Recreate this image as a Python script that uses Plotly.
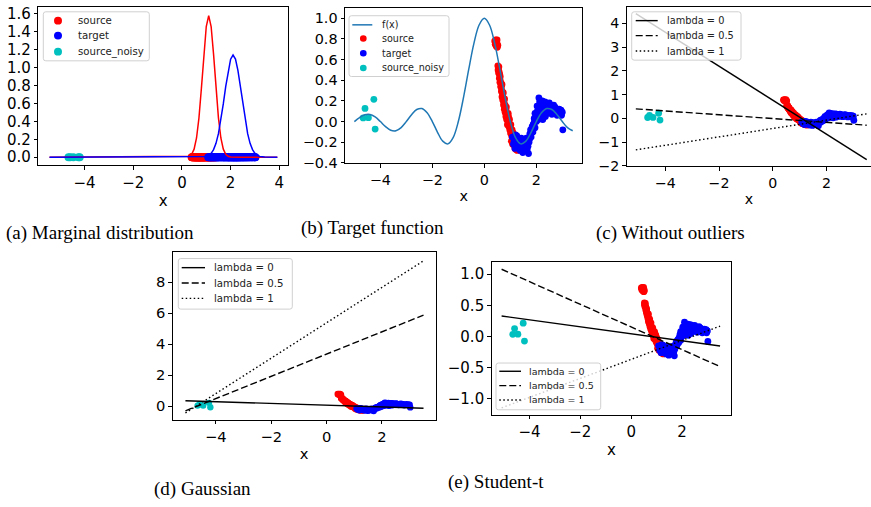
import plotly.graph_objects as go

W, H = 871, 507

# ---------------- data ----------------
source_x = [0.40, 0.42, 0.44, 0.46, 0.48, 0.50, 0.52, 0.43, 0.49,
            0.52, 0.54, 0.56, 0.57, 0.59, 0.60, 0.61, 0.62, 0.64, 0.65, 0.66, 0.67, 0.68,
            0.69, 0.70, 0.71, 0.72, 0.73, 0.74, 0.75, 0.76, 0.78, 0.78, 0.79, 0.80, 0.82,
            0.83, 0.84, 0.85, 0.86, 0.87, 0.88, 0.90, 0.91, 0.92, 0.93, 0.94, 0.95, 0.96,
            0.98, 1.00, 1.01, 1.03, 1.05, 1.06, 1.08, 1.10, 1.12, 1.14, 1.16, 1.18, 1.20,
            1.22, 1.25, 1.27, 1.30, 1.33, 1.36, 1.40,
            0.53, 0.55, 0.58, 0.60, 0.63, 0.66, 0.68, 0.71, 0.74, 0.77, 0.80, 0.83,
            0.86, 0.89, 0.92, 0.97, 1.02, 1.04, 1.07, 1.09, 1.11, 1.15, 1.18, 1.21,
            1.24, 1.28, 1.32, 1.38]
source_y = [0.78, 0.75, 0.79, 0.73, 0.76, 0.72, 0.74, 0.77, 0.79,
            0.54, 0.51, 0.53, 0.48, 0.46, 0.42, 0.44, 0.39, 0.37, 0.33, 0.35, 0.30, 0.36,
            0.29, 0.25, 0.27, 0.22, 0.28, 0.21, 0.18, 0.20, 0.15, 0.22, 0.13, 0.16, 0.10,
            0.12, 0.07, 0.14, 0.08, 0.04, 0.06, 0.01, 0.03, -0.02, 0.05, -0.01, -0.05, -0.03,
            -0.08, -0.06, -0.11, -0.09, -0.14, -0.12, -0.17, -0.15, -0.20, -0.18, -0.23, -0.21, -0.25,
            -0.27, -0.24, -0.28, -0.26, -0.22, -0.25, -0.21,
            0.50, 0.47, 0.42, 0.38, 0.34, 0.29, 0.24, 0.21, 0.16, 0.12, 0.09, 0.05,
            0.02, -0.03, 0.08, 0.02, -0.03, -0.19, -0.08, -0.22, -0.11, -0.14, -0.26, -0.17,
            -0.20, -0.23, -0.27, -0.18]

target_x = [1.08, 1.15, 1.20, 1.22, 1.28, 1.30, 1.35, 1.38, 1.42, 1.45, 1.48, 1.50, 1.55,
            1.58, 1.62, 1.65, 1.70, 1.72, 1.75, 1.78, 1.80, 1.84, 1.87, 1.90, 1.92, 1.95,
            1.95, 1.98, 2.00, 2.02, 2.05, 2.07, 2.10, 2.12, 2.14, 2.15, 2.17, 2.20, 2.22,
            2.25, 2.25, 2.28, 2.30, 2.33, 2.35, 2.36, 2.40, 2.43, 2.46, 2.50, 2.53, 2.56,
            2.60, 2.63, 2.67, 2.70, 2.75, 2.80, 2.85, 2.90, 2.95, 3.00, 3.02,
            1.12, 1.18, 1.25, 1.32, 1.40, 1.46, 1.52, 1.60, 1.68, 1.74, 1.82, 1.88,
            1.93, 2.03, 2.08, 2.13, 2.18, 2.23, 2.27, 2.32, 2.38, 2.42, 2.48, 2.52,
            2.58, 2.65, 2.72, 2.78, 2.88, 2.97]
target_y = [-0.15, -0.19, -0.13, -0.22, -0.17, -0.25, -0.20, -0.28, -0.16, -0.23, -0.30, -0.19, -0.26,
            -0.21, -0.16, -0.27, -0.31, -0.20, -0.12, -0.08, -0.15, -0.05, -0.10, -0.02, 0.03, -0.06,
            0.08, 0.05, 0.00, 0.09, 0.04, 0.12, 0.23, 0.07, 0.15, 0.20, 0.10, 0.18, 0.05,
            0.13, 0.02, 0.16, 0.09, 0.19, 0.05, 0.12, 0.17, 0.08, 0.14, 0.18, 0.10, 0.15,
            0.07, 0.12, 0.16, 0.09, 0.12, 0.06, 0.10, 0.08, 0.11, 0.09, -0.08,
            -0.22, -0.26, -0.14, -0.20, -0.24, -0.18, -0.27, -0.23, -0.24, -0.17, -0.10, -0.03,
            0.00, 0.15, 0.02, 0.19, 0.13, 0.20, 0.07, 0.14, 0.18, 0.13, 0.10, 0.16,
            0.11, 0.09, 0.14, 0.10, 0.12, 0.06]

noisy_x = [-4.66, -4.59, -4.46, -4.25, -4.20]
noisy_y = [0.035, 0.127, 0.038, 0.215, -0.073]

# marginal densities (panel a)
dens_x = [-5.44, 0.3, 0.4, 0.5, 0.6, 0.7, 0.8, 0.9, 1.0, 1.1, 1.2, 1.3, 1.4, 1.5, 1.6, 1.7,
          1.8, 1.9, 2.0, 2.1, 2.2, 2.3, 2.4, 2.5, 2.6, 2.7, 2.8, 2.9, 3.0, 3.1, 3.2, 3.3, 3.4, 3.92]
dens_source = [0.0, 0.0095, 0.031, 0.089, 0.214, 0.439, 0.769, 1.147, 1.458, 1.58, 1.458, 1.147,
               0.769, 0.439, 0.214, 0.089, 0.031, 0.0095, 0.002, 0.0, 0.0, 0.0, 0.0, 0.0, 0.0, 0.0,
               0.0, 0.0, 0.0, 0.0, 0.0, 0.0, 0.0, 0.0]
dens_target = [0.0, 0.0, 0.0, 0.0, 0.0, 0.0, 0.001, 0.003, 0.008, 0.019, 0.042, 0.084, 0.154,
               0.262, 0.411, 0.594, 0.790, 0.968, 1.094, 1.14, 1.094, 0.968, 0.790, 0.594, 0.411,
               0.262, 0.154, 0.084, 0.042, 0.019, 0.008, 0.003, 0.001, 0.0]

# target function f(x) (panel b)
fx_x = [-5.0, -4.8, -4.6, -4.4, -4.2, -4.0, -3.8, -3.6, -3.4, -3.2, -3.0, -2.8, -2.6, -2.4,
        -2.2, -2.0, -1.8, -1.6, -1.4, -1.2, -1.0, -0.8, -0.6, -0.4, -0.2, 0.0, 0.2, 0.4,
        0.6, 0.8, 1.0, 1.2, 1.4, 1.6, 1.8, 2.0, 2.2, 2.4, 2.6, 2.8, 3.0, 3.2, 3.4]
fx_y = [0.0, 0.0390, 0.0658, 0.0688, 0.0445, 0.0, -0.0492, -0.0841, -0.0890, -0.0585, 0.0,
        0.0668, 0.1164, 0.1261, 0.0850, 0.0, -0.1039, -0.1892, -0.2162, -0.1559, 0.0, 0.2339,
        0.5046, 0.7568, 0.9355, 1.0, 0.9355, 0.7568, 0.5046, 0.2339, 0.0, -0.1559, -0.2162,
        -0.1892, -0.1039, 0.0, 0.0850, 0.1261, 0.1164, 0.0668, 0.0, -0.0585, -0.0890]

# fitted lines (panels c, d, e)
line_x = [-5.1, 3.5]
lambda_labels = ["lambda = 0", "lambda = 0.5", "lambda = 1"]
c_lines = [[4.42, -1.74], [0.40, -0.29], [-1.33, 0.19]]
d_lines = [[0.35, -0.13], [-0.30, 5.87], [-0.44, 9.37]]
e_lines = [[0.33, -0.153], [1.08, -0.483], [-1.145, 0.167]]

captions = ["(a) Marginal distribution", "(b) Target function", "(c) Without outliers",
            "(d) Gaussian", "(e) Student-t"]

# ---------------- styling ----------------
RED, BLUE, CYAN, TAB = "#ff0000", "#0000ff", "#00bfbf", "#1f77b4"
DASHES = ["solid", "7px,3px", "1.5px,2.5px"]
SANS = "DejaVu Sans"
SERIF = "Liberation Serif"


def fx(p):
    return p / W


def fy(p):
    return 1 - p / H


# pixel boxes of the plotting areas: (left, right, top, bottom)
boxes = {
    1: (38.3, 288.3, 5.0, 166.7),
    2: (345.0, 582.3, 5.7, 164.3),
    3: (626.7, 871.0, 5.0, 167.3),
    4: (172.7, 435.7, 255.0, 426.0),
    5: (491.7, 731.0, 265.0, 421.0),
}
xranges = {1: [-5.9, 4.37], 2: [-5.36, 3.77], 3: [-5.44, 3.66], 4: [-5.56, 3.94], 5: [-5.49, 3.93]}
yranges = {1: [-0.092, 1.677], 2: [-0.402, 1.104], 3: [-2.01, 4.70], 4: [-0.866, 9.94], 5: [-1.255, 1.20]}
ytick = {1: dict(tickvals=[0, 0.2, 0.4, 0.6, 0.8, 1.0, 1.2, 1.4, 1.6], tickformat=".1f"),
         2: dict(tickvals=[-0.4, -0.2, 0, 0.2, 0.4, 0.6, 0.8, 1.0], tickformat=".1f"),
         3: dict(tickvals=[-2, -1, 0, 1, 2, 3, 4]),
         4: dict(tickvals=[0, 2, 4, 6, 8]),
         5: dict(tickvals=[-1.0, -0.5, 0, 0.5, 1.0], tickformat=".1f")}
xtick = {1: [-4, -2, 0, 2, 4], 2: [-4, -2, 0, 2], 3: [-4, -2, 0, 2], 4: [-4, -2, 0, 2], 5: [-4, -2, 0, 2]}
fsize = {1: 15, 2: 14.4, 3: 14.2, 4: 14.7, 5: 15}
msize = {1: 8, 2: 6.8, 3: 6.8, 4: 6.4, 5: 6.8}

fig = go.Figure()


def ax(i):
    return ("x" if i == 1 else "x%d" % i), ("y" if i == 1 else "y%d" % i)


def scatter(i, xs, ys, color):
    xa, ya = ax(i)
    fig.add_trace(go.Scatter(x=xs, y=ys, mode="markers", xaxis=xa, yaxis=ya, showlegend=False,
                             marker=dict(color=color, size=msize[i], line=dict(width=0))))


def line(i, xs, ys, color, dash="solid", width=1.5, shape="linear"):
    xa, ya = ax(i)
    fig.add_trace(go.Scatter(x=xs, y=ys, mode="lines", xaxis=xa, yaxis=ya, showlegend=False,
                             line=dict(color=color, width=width, dash=dash, shape=shape)))


# panel a
scatter(1, source_x, [0] * len(source_x), RED)
scatter(1, target_x, [0] * len(target_x), BLUE)
scatter(1, noisy_x, [0] * len(noisy_x), CYAN)
line(1, dens_x, dens_source, RED)
line(1, dens_x, dens_target, BLUE)

# panel b
scatter(2, source_x, source_y, RED)
scatter(2, target_x, target_y, BLUE)
scatter(2, noisy_x, noisy_y, CYAN)
line(2, fx_x, fx_y, TAB, shape="spline")

# panels c, d, e
for i, lines in ((3, c_lines), (4, d_lines), (5, e_lines)):
    scatter(i, source_x, source_y, RED)
    scatter(i, target_x, target_y, BLUE)
    scatter(i, noisy_x, noisy_y, CYAN)
    for ys, dash in zip(lines, DASHES):
        line(i, line_x, ys, "black", dash=dash, width=1.4)

# axes
layout = dict(width=W, height=H, margin=dict(l=0, r=0, t=0, b=0),
              paper_bgcolor="white", plot_bgcolor="white", showlegend=False)
for i, (l, r, t, b) in boxes.items():
    xa, ya = ax(i)
    xk = "xaxis" if i == 1 else "xaxis%d" % i
    yk = "yaxis" if i == 1 else "yaxis%d" % i
    common = dict(showline=True, linecolor="black", linewidth=1, ticks="outside", ticklen=3.5,
                  tickwidth=1, tickcolor="black", showgrid=False, zeroline=False,
                  tickfont=dict(family=SANS, size=fsize[i], color="black"))
    layout[xk] = dict(domain=[fx(l), fx(r)], range=xranges[i], anchor=ya, mirror=True,
                      tickvals=xtick[i],
                      title=dict(text="x", font=dict(family=SANS, size=fsize[i], color="black"),
                                 standoff=4),
                      **common)
    layout[yk] = dict(domain=[fy(b), fy(t)], range=yranges[i], anchor=xa,
                      mirror=(i != 3), **ytick[i], **common)

fig.update_layout(**layout)

shapes = []
annotations = []


def rounded_box(l, t, r, b, rad=2.5):
    rx, ry = rad / W, rad / H
    L, R, T, B = fx(l), fx(r), fy(t), fy(b)
    p = (f"M {L+rx},{T} L {R-rx},{T} Q {R},{T} {R},{T-ry} L {R},{B+ry} Q {R},{B} {R-rx},{B} "
         f"L {L+rx},{B} Q {L},{B} {L},{B+ry} L {L},{T-ry} Q {L},{T} {L+rx},{T} Z")
    shapes.append(dict(type="path", path=p, xref="paper", yref="paper", layer="above",
                       fillcolor="rgba(255,255,255,0.8)", line=dict(color="#d0d0d0", width=1)))


def leg_marker(cx, cy, d, color):
    shapes.append(dict(type="circle", xref="paper", yref="paper", layer="above",
                       x0=fx(cx - d / 2), x1=fx(cx + d / 2), y0=fy(cy + d / 2), y1=fy(cy - d / 2),
                       fillcolor=color, line=dict(width=0)))


def leg_line(x0, x1, y, color, dash="solid", width=1.4):
    shapes.append(dict(type="line", xref="paper", yref="paper", layer="above",
                       x0=fx(x0), x1=fx(x1), y0=fy(y), y1=fy(y),
                       line=dict(color=color, width=width, dash=dash)))


def text(x, y, s, size, family=SANS, color="#222222"):
    annotations.append(dict(x=fx(x), y=fy(y), xref="paper", yref="paper", text=s,
                            showarrow=False, xanchor="left", yanchor="middle",
                            font=dict(family=family, size=size, color=color)))


# legend a
rounded_box(43.3, 10, 149.3, 60)
for cy, col, lab in zip([19, 34.3, 50.7], [RED, BLUE, CYAN], ["source", "target", "source_noisy"]):
    leg_marker(58, cy, 8, col)
    text(75.5, cy, lab, 10.2)

# legend b
rounded_box(349, 14, 449, 76)
leg_line(352.3, 372.3, 23.3, TAB, width=1.5)
text(379.5, 23.3, "f(x)", 9.6)
for cy, col, lab in zip([37.3, 52.3, 67.3], [RED, BLUE, CYAN], ["source", "target", "source_noisy"]):
    leg_marker(363.3, cy, 6.7, col)
    text(379.5, cy, lab, 9.6)

# legends c, d, e
for (l, t, r, b), (s0, s1), rows, tx, fs in [
        ((631.7, 10, 741, 59.3), (635.7, 657.7), [19, 34.3, 50], 664.5, 9.8),
        ((178.3, 261.7, 292.3, 313.3), (181.7, 205), [271, 286.7, 302.3], 212, 10.2),
        ((496, 368.3, 600.7, 416), (499.3, 521), [376.7, 391.3, 406], 527, 9.5)]:
    rounded_box(l, t, r, b)
    for cy, dash, lab in zip(rows, DASHES, lambda_labels):
        leg_line(s0, s1, cy, "black", dash=dash)
        text(tx, cy, lab, fs)

# captions
for (x, y), cap in zip([(3.5, 236), (298.5, 231), (593.5, 236), (151.5, 496.7), (445.5, 489.3)], captions):
    text(x, y, cap, 19, family=SERIF, color="black")

fig.update_layout(shapes=shapes, annotations=annotations)
fig.write_html("out.html")
